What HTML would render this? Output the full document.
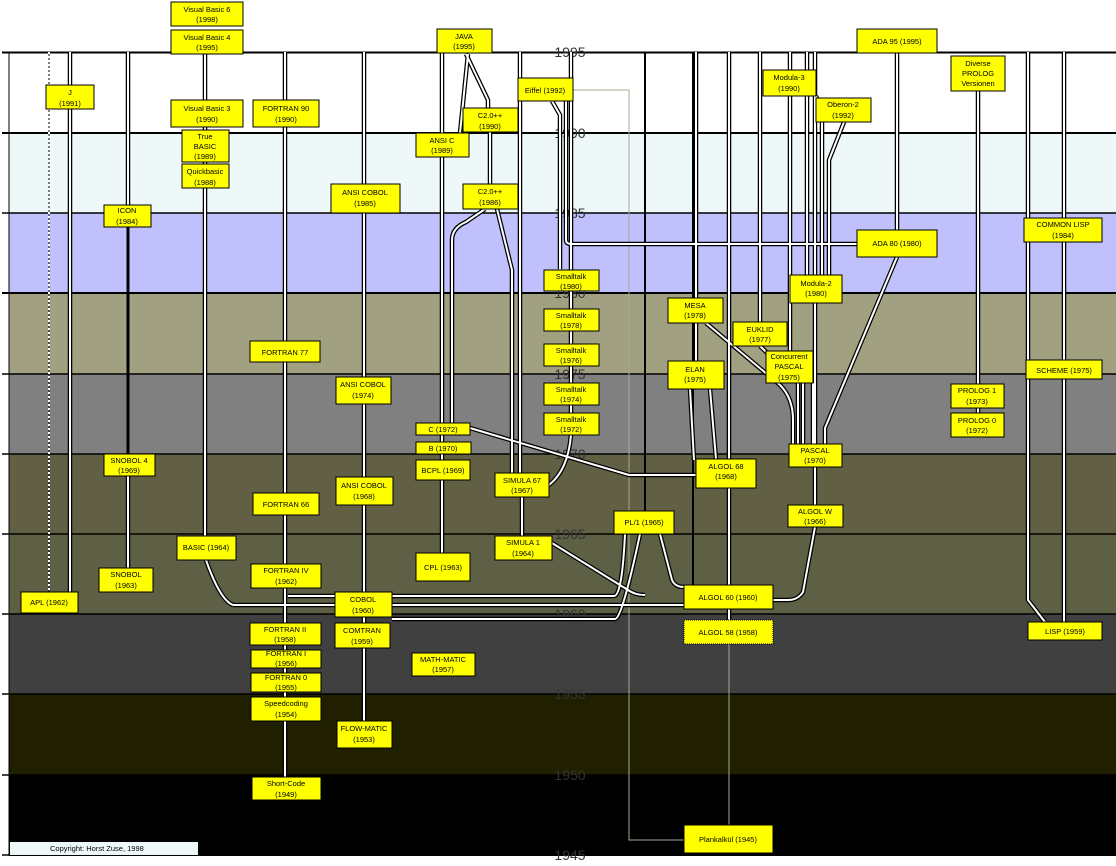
<!DOCTYPE html>
<html><head><meta charset="utf-8"><style>
html,body{margin:0;padding:0;background:#fff;}
svg{display:block;}
text{font-family:"Liberation Sans",sans-serif;}
</style></head><body>
<svg width="1116" height="866" viewBox="0 0 1116 866" xmlns="http://www.w3.org/2000/svg">
<rect x="0" y="0" width="1116" height="866" fill="#fff"/>
<rect x="9" y="52" width="1107" height="81" fill="#ffffff"/>
<rect x="9" y="133" width="1107" height="80" fill="#eef8f8"/>
<rect x="9" y="213" width="1107" height="80" fill="#c0c0fc"/>
<rect x="9" y="293" width="1107" height="81" fill="#a1a081"/>
<rect x="9" y="374" width="1107" height="80" fill="#808080"/>
<rect x="9" y="454" width="1107" height="80" fill="#626044"/>
<rect x="9" y="534" width="1107" height="80" fill="#5e6046"/>
<rect x="9" y="614" width="1107" height="80" fill="#404040"/>
<rect x="9" y="694" width="1107" height="81" fill="#202000"/>
<rect x="9" y="775" width="1107" height="81" fill="#000000"/>
<line x1="9" y1="52" x2="9" y2="856" stroke="#000" stroke-width="1"/>
<g stroke="#000" stroke-width="1.5">
<line x1="2" y1="52.5" x2="1116" y2="52.5" stroke-width="2"/>
<line x1="2" y1="133" x2="1116" y2="133" stroke-width="2"/>
<line x1="2" y1="213" x2="1116" y2="213"/>
<line x1="2" y1="293" x2="1116" y2="293" stroke-width="2"/>
<line x1="2" y1="374" x2="1116" y2="374"/>
<line x1="2" y1="454" x2="1116" y2="454"/>
<line x1="2" y1="534" x2="1116" y2="534"/>
<line x1="2" y1="614" x2="1116" y2="614"/>
<line x1="2" y1="694" x2="1116" y2="694"/>
<line x1="2" y1="775" x2="1116" y2="775"/>
<line x1="2" y1="855" x2="1116" y2="855"/>
</g>
<g font-size="14" fill="#333" text-anchor="middle">
<text x="570" y="57">1995</text><text x="570" y="138">1990</text><text x="570" y="218">1985</text>
<text x="570" y="298">1980</text><text x="570" y="379">1975</text><text x="570" y="459">1970</text>
<text x="570" y="539">1965</text><text x="570" y="619">1960</text><text x="570" y="699">1955</text>
<text x="570" y="780">1950</text><text x="570" y="860">1945</text>
</g>
<g fill="none" stroke="#a8a890" stroke-width="1">
<polyline points="573,90 629,90 629,840 684,840"/>
<line x1="729" y1="644" x2="729" y2="825"/>
</g>
<g stroke="#000" stroke-width="2">
<line x1="645" y1="52" x2="645" y2="511"/>
<line x1="693" y1="52" x2="693" y2="585"/>
<line x1="128" y1="227" x2="128" y2="454" stroke-width="3"/>
</g>
<line x1="49" y1="52" x2="49" y2="592" stroke="#fff" stroke-width="2" stroke-dasharray="2,2"/>
<line x1="49" y1="52" x2="49" y2="592" stroke="#000" stroke-width="1" stroke-dasharray="2,2" stroke-dashoffset="2"/>
<path fill="none" stroke-linejoin="round" stroke="#000" stroke-width="4.5" d="M70 52V592 M128 52V205 M128 476V568 M205 52V536 M285 52V777 M364 52V721
M442 52V133 M442 157V581 M452 423V240 Q452 228 466 222 L485 209 M468 54L460 133 M466 54L488 100V108 M490 132V184
M497 209L512 270V473 M520 52V473 M552 101L560 115V269 M566 101V240 Q566 244 572 244H857 M571 52V413
M571 435Q568 470 549 485 M522 497V536 M552 543L628 590 Q635 595 645 595 M470 428L629 475H696
M233 605Q220 600 206 560 M233 605H684 M288 596H614 Q622 596 625 534 M392 619H615 Q622 619 640 534
M660 534L672 580 Q675 587 684 587 M690 389L694 460 M710 389L716 459
M696 52V298 M696 323V361 M729 52V459 M729 488V585 M729 609V620 M760 52V322 M790 52V351 M807 52V275
M816 96L822 112V275 M815 52V444 M844 122L829 160V275 M897 52V230 M897 257L825 428V444
M706 323L780 385 Q793 398 793 420V444 M760 346L798 383V444 M803 383V444 M813 383V444
M978 91V384 M978 408V413 M1028 52V600 L1045 622 M1064 52V622
M815 467V505 M815 527L803 592Q798 600 788 600H773 M364 617V623 M364 648V721"/>
<path fill="none" stroke-linejoin="round" stroke="#fff" stroke-width="2" d="M70 52V592 M128 52V205 M128 476V568 M205 52V536 M285 52V777 M364 52V721
M442 52V133 M442 157V581 M452 423V240 Q452 228 466 222 L485 209 M468 54L460 133 M466 54L488 100V108 M490 132V184
M497 209L512 270V473 M520 52V473 M552 101L560 115V269 M566 101V240 Q566 244 572 244H857 M571 52V413
M571 435Q568 470 549 485 M522 497V536 M552 543L628 590 Q635 595 645 595 M470 428L629 475H696
M233 605Q220 600 206 560 M233 605H684 M288 596H614 Q622 596 625 534 M392 619H615 Q622 619 640 534
M660 534L672 580 Q675 587 684 587 M690 389L694 460 M710 389L716 459
M696 52V298 M696 323V361 M729 52V459 M729 488V585 M729 609V620 M760 52V322 M790 52V351 M807 52V275
M816 96L822 112V275 M815 52V444 M844 122L829 160V275 M897 52V230 M897 257L825 428V444
M706 323L780 385 Q793 398 793 420V444 M760 346L798 383V444 M803 383V444 M813 383V444
M978 91V384 M978 408V413 M1028 52V600 L1045 622 M1064 52V622
M815 467V505 M815 527L803 592Q798 600 788 600H773 M364 617V623 M364 648V721"/>
<g fill="#ffff00" stroke="#000" stroke-width="1">
<rect x="171" y="2" width="72" height="24"/><rect x="171" y="30" width="72" height="24"/>
<rect x="46" y="85" width="48" height="24"/><rect x="171" y="100" width="72" height="27"/>
<rect x="253" y="100" width="66" height="27"/><rect x="182" y="130" width="47" height="32"/>
<rect x="182" y="164" width="47" height="24"/><rect x="104" y="205" width="47" height="22"/>
<rect x="331" y="184" width="69" height="29"/><rect x="437" y="29" width="55" height="24"/>
<rect x="463" y="108" width="55" height="24"/><rect x="416" y="133" width="53" height="24"/>
<rect x="463" y="184" width="55" height="25"/><rect x="518" y="78" width="55" height="23"/>
<rect x="544" y="270" width="55" height="21"/><rect x="544" y="309" width="55" height="22"/>
<rect x="544" y="344" width="55" height="22"/><rect x="544" y="383" width="55" height="22"/>
<rect x="544" y="413" width="55" height="22"/><rect x="416" y="423" width="54" height="12"/>
<rect x="416" y="442" width="55" height="12"/><rect x="416" y="460" width="54" height="20"/>
<rect x="495" y="473" width="54" height="24"/><rect x="495" y="536" width="57" height="24"/>
<rect x="416" y="553" width="54" height="28"/><rect x="614" y="511" width="60" height="23"/>
<rect x="684" y="585" width="89" height="24"/>
<rect x="412" y="653" width="63" height="23"/><rect x="335" y="592" width="57" height="25"/>
<rect x="335" y="623" width="55" height="25"/><rect x="251" y="564" width="70" height="24"/>
<rect x="250" y="623" width="71" height="22"/><rect x="251" y="650" width="70" height="18"/>
<rect x="251" y="673" width="70" height="19"/><rect x="251" y="697" width="70" height="24"/>
<rect x="337" y="721" width="55" height="27"/><rect x="252" y="777" width="69" height="23"/>
<rect x="684" y="825" width="89" height="28"/><rect x="177" y="536" width="59" height="24"/>
<rect x="253" y="493" width="66" height="22"/><rect x="250" y="341" width="70" height="21"/>
<rect x="336" y="377" width="55" height="27"/><rect x="336" y="477" width="57" height="28"/>
<rect x="104" y="454" width="51" height="22"/><rect x="99" y="568" width="54" height="24"/>
<rect x="21" y="592" width="57" height="21"/><rect x="857" y="29" width="80" height="24"/>
<rect x="763" y="70" width="53" height="26"/><rect x="816" y="98" width="55" height="24"/>
<rect x="951" y="56" width="54" height="35"/><rect x="857" y="230" width="80" height="27"/>
<rect x="1024" y="218" width="78" height="24"/><rect x="790" y="275" width="52" height="28"/>
<rect x="668" y="298" width="55" height="25"/><rect x="733" y="322" width="54" height="24"/>
<rect x="766" y="351" width="47" height="32"/><rect x="668" y="361" width="56" height="28"/>
<rect x="1026" y="360" width="76" height="19"/><rect x="951" y="384" width="53" height="24"/>
<rect x="951" y="413" width="53" height="24"/><rect x="789" y="444" width="53" height="23"/>
<rect x="696" y="459" width="60" height="29"/><rect x="788" y="505" width="55" height="22"/>
<rect x="1028" y="622" width="74" height="18"/>
<rect x="684" y="620" width="89" height="24" stroke-dasharray="1,1"/>
</g>
<rect x="10" y="842" width="188" height="13" fill="#eef8f8"/>
<text x="50" y="851" font-size="7.5" fill="#000">Copyright: Horst Zuse, 1998</text>
<g font-size="7.5" fill="#000" text-anchor="middle">
<text x="207" y="12">Visual Basic 6</text><text x="207" y="22">(1998)</text>
<text x="207" y="40">Visual Basic 4</text><text x="207" y="50">(1995)</text>
<text x="70" y="95">J</text><text x="70" y="106">(1991)</text>
<text x="207" y="111">Visual Basic 3</text><text x="207" y="122">(1990)</text>
<text x="286" y="111">FORTRAN 90</text><text x="286" y="122">(1990)</text>
<text x="205" y="139">True</text><text x="205" y="149">BASIC</text><text x="205" y="159">(1989)</text>
<text x="205" y="174">Quickbasic</text><text x="205" y="185">(1988)</text>
<text x="127" y="213">ICON</text><text x="127" y="224">(1984)</text>
<text x="365" y="195">ANSI COBOL</text><text x="365" y="206">(1985)</text>
<text x="464" y="39">JAVA</text><text x="464" y="49">(1995)</text>
<text x="490" y="118">C2.0++</text><text x="490" y="129">(1990)</text>
<text x="442" y="143">ANSI C</text><text x="442" y="153">(1989)</text>
<text x="490" y="194">C2.0++</text><text x="490" y="205">(1986)</text>
<text x="545" y="93">Eiffel (1992)</text>
<text x="571" y="279">Smalltalk</text><text x="571" y="289">(1980)</text>
<text x="571" y="318">Smalltalk</text><text x="571" y="328">(1978)</text>
<text x="571" y="353">Smalltalk</text><text x="571" y="363">(1976)</text>
<text x="571" y="392">Smalltalk</text><text x="571" y="402">(1974)</text>
<text x="571" y="422">Smalltalk</text><text x="571" y="432">(1972)</text>
<text x="443" y="432">C (1972)</text><text x="443" y="451">B (1970)</text>
<text x="443" y="473">BCPL (1969)</text>
<text x="522" y="483">SIMULA 67</text><text x="522" y="493">(1967)</text>
<text x="523" y="545">SIMULA 1</text><text x="523" y="556">(1964)</text>
<text x="443" y="570">CPL (1963)</text><text x="644" y="525">PL/1 (1965)</text>
<text x="728" y="600">ALGOL 60 (1960)</text><text x="728" y="635">ALGOL 58 (1958)</text>
<text x="443" y="662">MATH-MATIC</text><text x="443" y="672">(1957)</text>
<text x="363" y="602">COBOL</text><text x="363" y="613">(1960)</text>
<text x="362" y="633">COMTRAN</text><text x="362" y="644">(1959)</text>
<text x="286" y="573">FORTRAN IV</text><text x="286" y="584">(1962)</text>
<text x="285" y="632">FORTRAN II</text><text x="285" y="642">(1958)</text>
<text x="286" y="656">FORTRAN I</text><text x="286" y="666">(1956)</text>
<text x="286" y="680">FORTRAN 0</text><text x="286" y="690">(1955)</text>
<text x="286" y="706">Speedcoding</text><text x="286" y="717">(1954)</text>
<text x="364" y="731">FLOW-MATIC</text><text x="364" y="742">(1953)</text>
<text x="286" y="786">Short-Code</text><text x="286" y="797">(1949)</text>
<text x="728" y="842">Plankalkül (1945)</text>
<text x="206" y="550">BASIC (1964)</text>
<text x="286" y="507">FORTRAN 66</text><text x="285" y="355">FORTRAN 77</text>
<text x="363" y="387">ANSI COBOL</text><text x="363" y="398">(1974)</text>
<text x="364" y="488">ANSI COBOL</text><text x="364" y="499">(1968)</text>
<text x="129" y="463">SNOBOL 4</text><text x="129" y="473">(1969)</text>
<text x="126" y="577">SNOBOL</text><text x="126" y="588">(1963)</text>
<text x="49" y="605">APL (1962)</text>
<text x="897" y="44">ADA 95 (1995)</text>
<text x="789" y="80">Modula-3</text><text x="789" y="91">(1990)</text>
<text x="843" y="107">Oberon-2</text><text x="843" y="118">(1992)</text>
<text x="978" y="66">Diverse</text><text x="978" y="76">PROLOG</text><text x="978" y="86">Versionen</text>
<text x="897" y="246">ADA 80 (1980)</text>
<text x="1063" y="227">COMMON LISP</text><text x="1063" y="238">(1984)</text>
<text x="816" y="286">Modula-2</text><text x="816" y="296">(1980)</text>
<text x="695" y="308">MESA</text><text x="695" y="318">(1978)</text>
<text x="760" y="332">EUKLID</text><text x="760" y="342">(1977)</text>
<text x="789" y="359">Concurrent</text><text x="789" y="369">PASCAL</text><text x="789" y="380">(1975)</text>
<text x="695" y="372">ELAN</text><text x="695" y="382">(1975)</text>
<text x="1064" y="373">SCHEME (1975)</text>
<text x="977" y="393">PROLOG 1</text><text x="977" y="404">(1973)</text>
<text x="977" y="423">PROLOG 0</text><text x="977" y="433">(1972)</text>
<text x="815" y="453">PASCAL</text><text x="815" y="463">(1970)</text>
<text x="726" y="469">ALGOL 68</text><text x="726" y="479">(1968)</text>
<text x="815" y="514">ALGOL W</text><text x="815" y="524">(1966)</text>
<text x="1065" y="634">LISP (1959)</text>
</g>
</svg>
</body></html>
